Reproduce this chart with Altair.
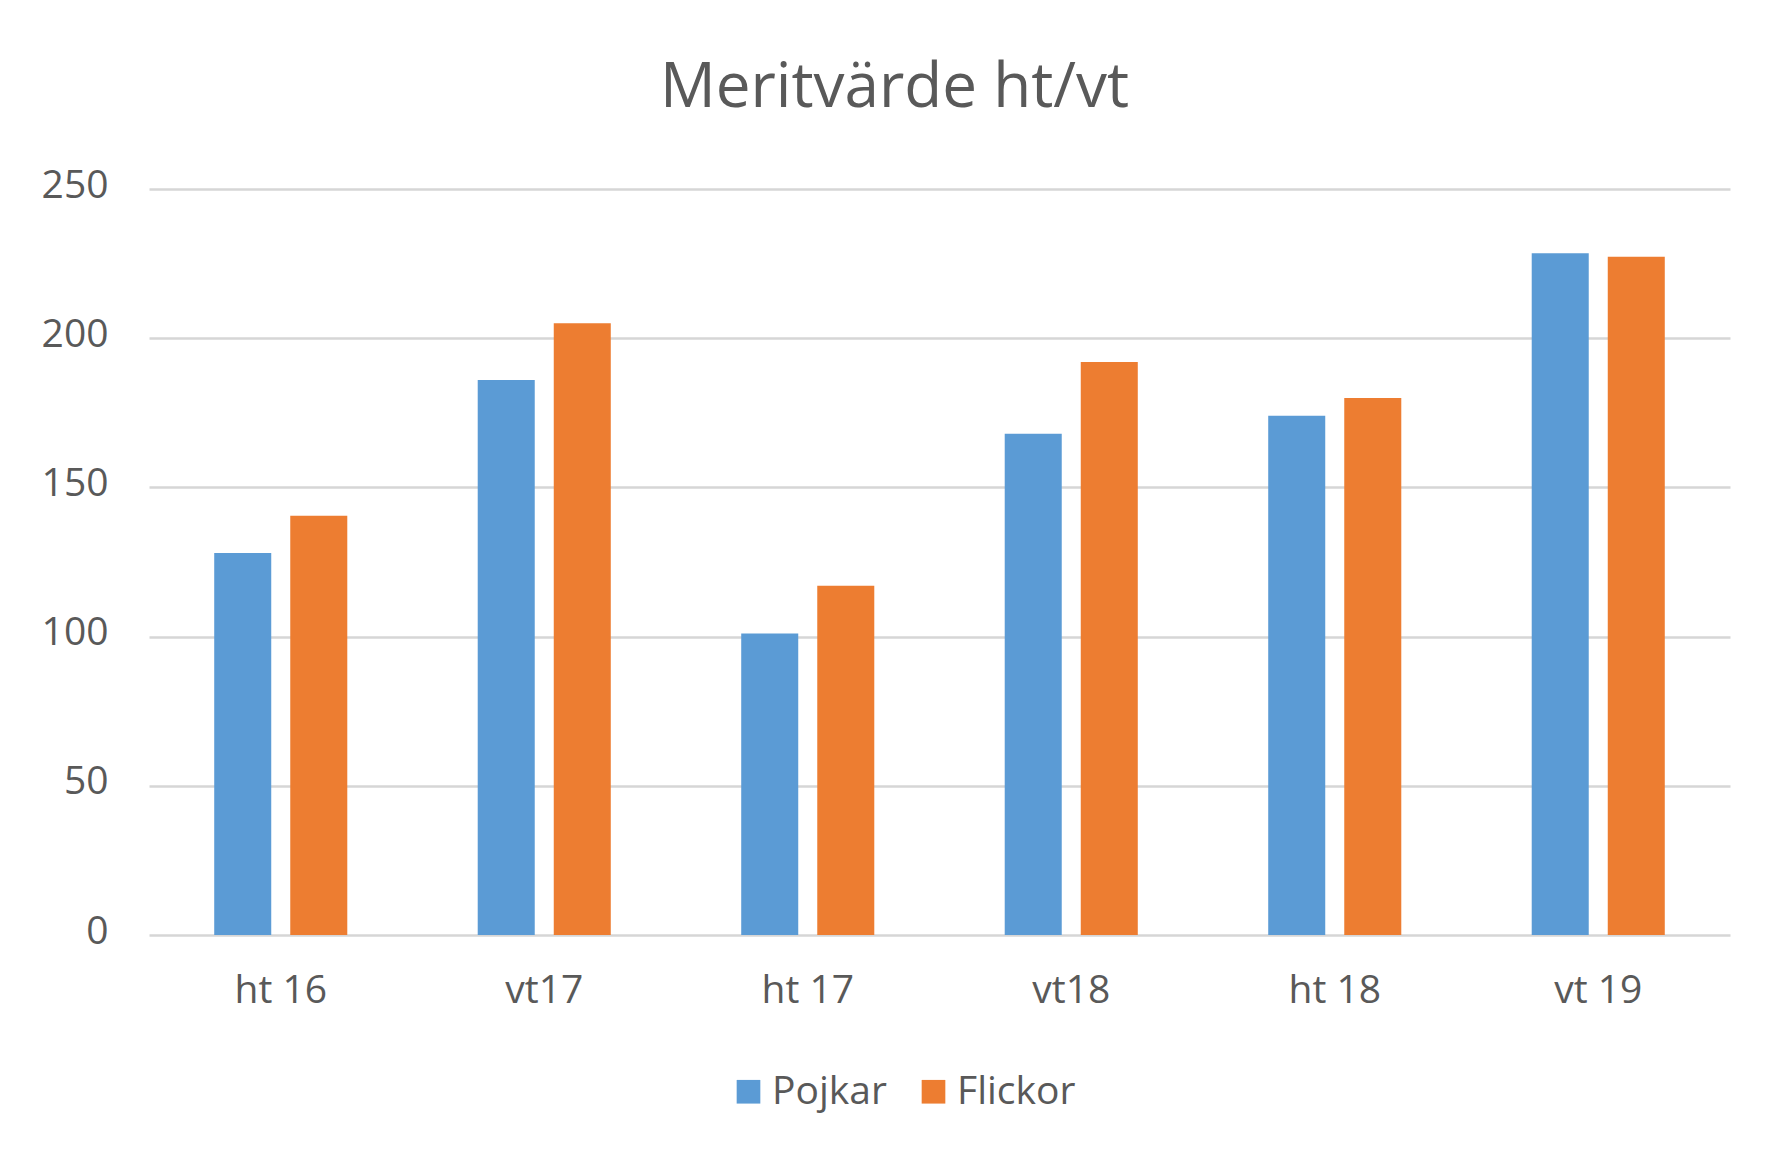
import altair as alt
import pandas as pd

categories = ["ht 16", "vt17", "ht 17", "vt18", "ht 18", "vt 19"]
pojkar = [128, 186, 101, 168, 174, 228.5]
flickor = [140.5, 205, 117, 192, 180, 227.3]
series = ["Pojkar", "Flickor"]
colors = ["#5B9BD5", "#ED7D31"]
y_ticks = [0, 50, 100, 150, 200, 250]

rows = []
for c, p, f in zip(categories, pojkar, flickor):
    rows.append({"Termin": c, "Kön": "Pojkar", "Värde": p})
    rows.append({"Termin": c, "Kön": "Flickor", "Värde": f})
df = pd.DataFrame(rows)

FONT = "Open Sans"
TXT = "#595959"

chart = (
    alt.Chart(df)
    .mark_bar()
    .encode(
        x=alt.X(
            "Termin:N",
            sort=categories,
            title=None,
            scale=alt.Scale(paddingInner=0.495, paddingOuter=0.2475),
            axis=alt.Axis(
                labelAngle=0,
                domain=False,
                ticks=False,
                labelFontSize=39,
                labelFont=FONT,
                labelColor=TXT,
                labelPadding=36,
            ),
        ),
        xOffset=alt.XOffset(
            "Kön:N", sort=series, scale=alt.Scale(paddingInner=0.25, paddingOuter=0)
        ),
        y=alt.Y(
            "Värde:Q",
            title=None,
            scale=alt.Scale(domain=[0, 250], nice=False),
            axis=alt.Axis(
                values=y_ticks,
                domain=False,
                ticks=False,
                labelFontSize=39,
                labelFont=FONT,
                labelColor=TXT,
                labelPadding=41,
                labelOffset=-4,
                grid=True,
                gridColor="#d6d6d6",
                gridWidth=2.5,
            ),
        ),
        color=alt.Color(
            "Kön:N",
            sort=series,
            scale=alt.Scale(domain=series, range=colors),
            legend=alt.Legend(
                title=None,
                orient="none",
                legendX=580,
                legendY=883,
                direction="horizontal",
                symbolType="square",
                symbolSize=560,
                symbolStrokeWidth=0,
                labelFontSize=39,
                labelFont=FONT,
                labelColor=TXT,
                labelOffset=4,
                columnPadding=27,
            ),
        ),
    )
    .properties(
        width=1581,
        height=746,
        autosize=alt.AutoSizeParams(type="none"),
        padding={"left": 141, "top": 181, "right": 26, "bottom": 190},
        title=alt.TitleParams(
            "Meritvärde ht/vt",
            fontSize=62,
            font=FONT,
            fontWeight="normal",
            color=TXT,
            anchor="middle",
            frame="group",
            dx=-45,
            offset=46,
        ),
    )
    .configure_view(stroke=None)
)

chart.save("out.html", embed_options={"renderer": "svg", "actions": False})
